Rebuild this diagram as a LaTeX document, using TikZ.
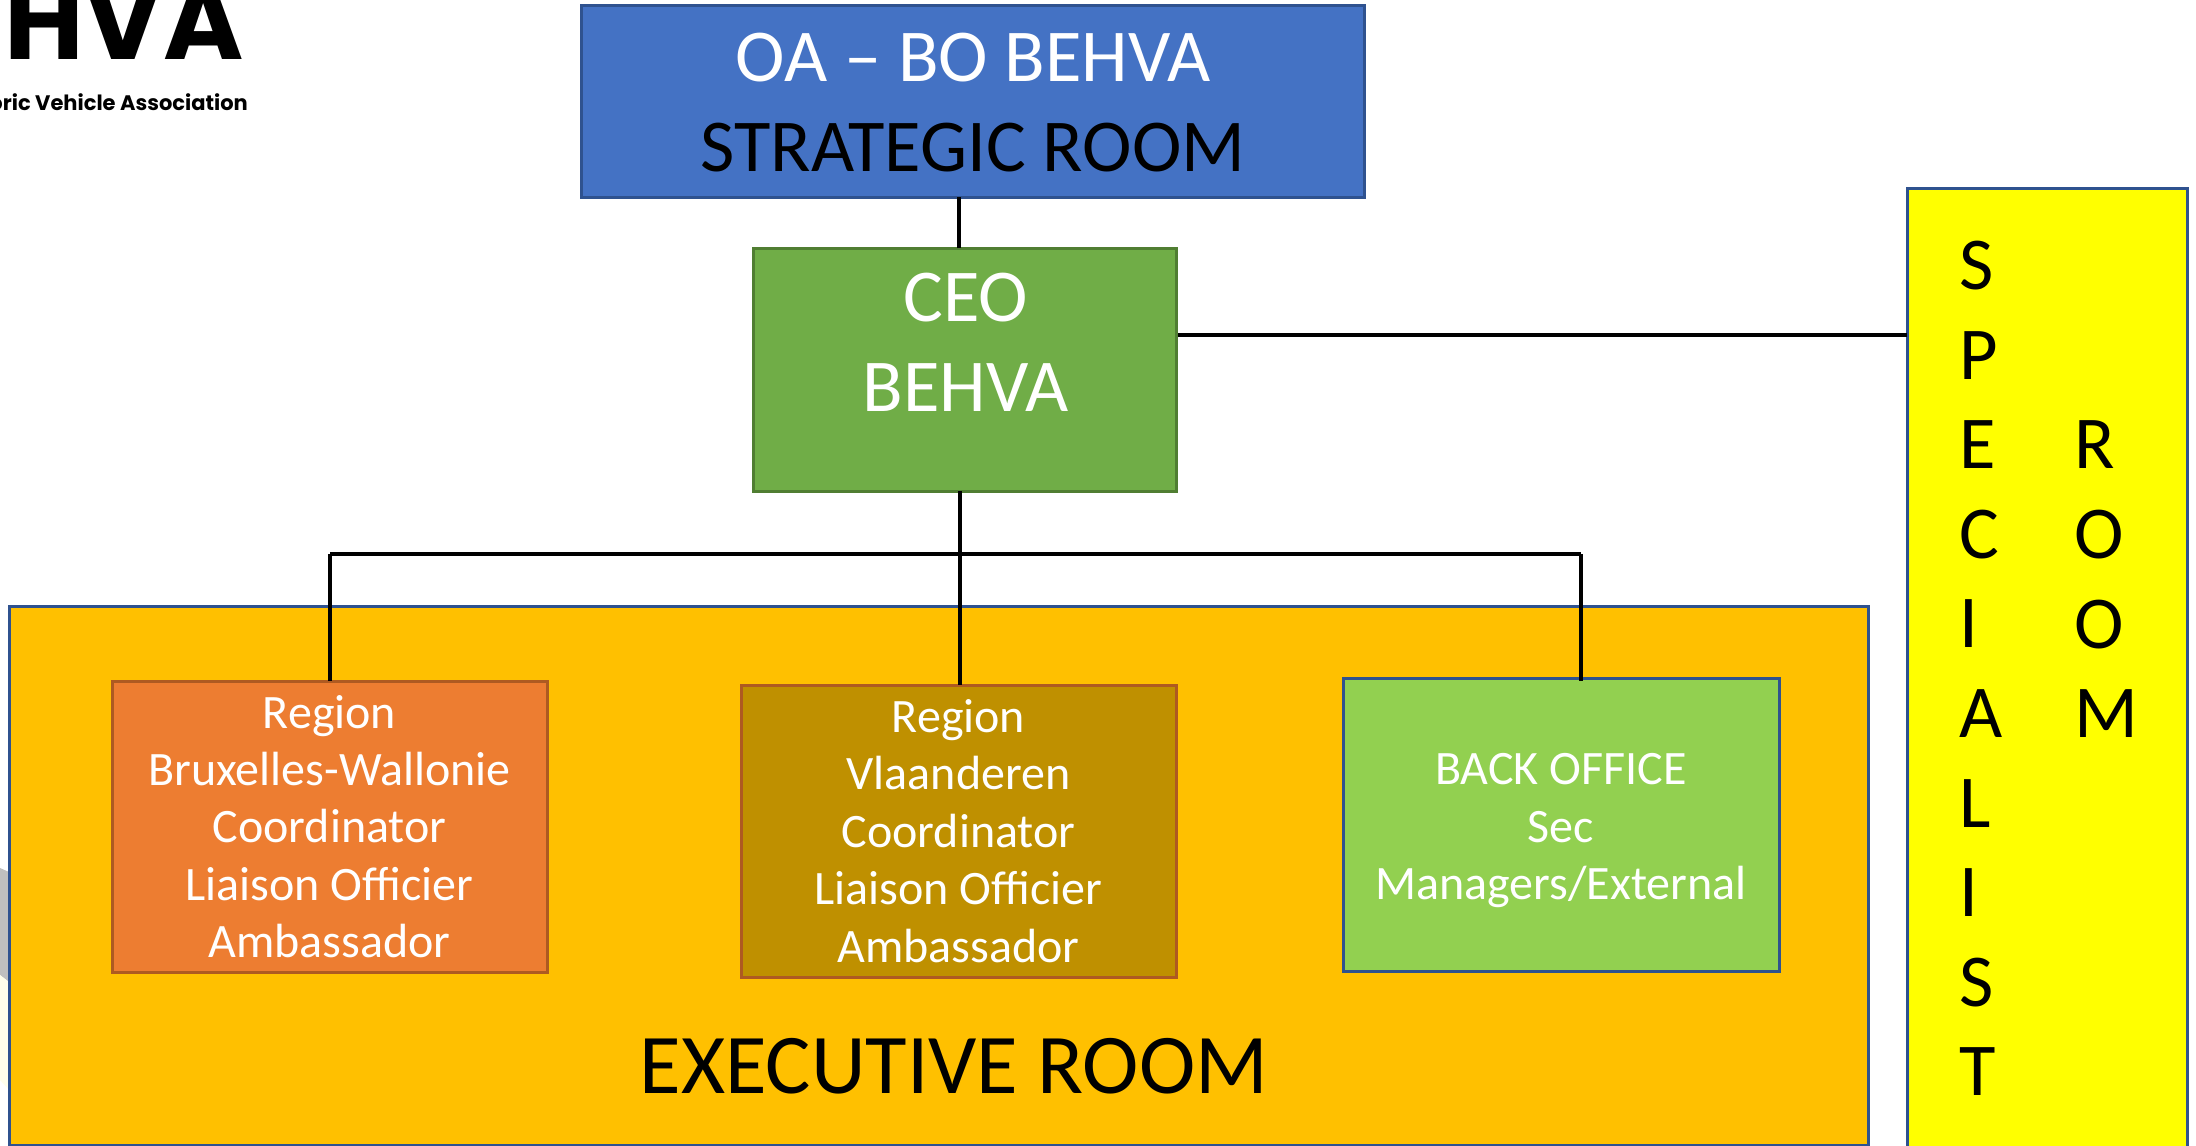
\documentclass[tikz,border=0pt]{standalone}
\usepackage{fontspec}
\setmainfont{Carlito}
\newfontfamily\logofont{Poppins}
\definecolor{blueroom}{HTML}{4472C4}
\definecolor{blueedge}{HTML}{2F528F}
\definecolor{ceofill}{HTML}{70AD47}
\definecolor{ceoedge}{HTML}{507E32}
\definecolor{execfill}{HTML}{FFC000}
\definecolor{orangefill}{HTML}{ED7D31}
\definecolor{orangeedge}{HTML}{AE5A21}
\definecolor{goldfill}{HTML}{BF9000}
\definecolor{backfill}{HTML}{92D050}
\definecolor{specfill}{HTML}{FFFF00}
\newcommand{\bigfont}{\fontsize{74.6}{89.6}\selectfont}
\newcommand{\hugefont}{\fontsize{85}{100}\selectfont}
\newcommand{\smallfont}{\fontsize{48}{57.4}\selectfont}
\begin{document}
\begin{tikzpicture}[line cap=butt,line join=miter,x=1pt,y=-1pt,
  room/.style={draw,line width=3pt,inner sep=0pt,outer sep=0pt,align=center},
  bigtext/.style={inner sep=0pt,outer sep=0pt,align=center,font=\bigfont},
  smalltext/.style={font=\smallfont,text=white},
  wire/.style={line width=4.5pt,black}]
\useasboundingbox (0,0) rectangle (2196,1146);
\clip (0,0) rectangle (2196,1146);
% logo and the grey scrap at the left edge
\node[anchor=base east,inner sep=0pt,text depth=0pt,font=\logofont\bfseries\fontsize{109}{109}\selectfont] (logomark) at (244,59) {HVA};
\node[anchor=base east,inner sep=0pt,font=\logofont\bfseries\fontsize{21}{21}\selectfont] (logoname) at (248,110) {oric Vehicle Association};
\fill[gray!50] (0,868) -- (9,872) -- (9,982) -- (0,975) -- cycle;
\fill[yellow!8] (0,975) -- (9,982) -- (9,1090) -- (0,1080) -- cycle;
% rooms
\node[room,fill=execfill,draw=blueedge,minimum width=1859,minimum height=539] (execroom) at (938.5,875.5) {};
\node[room,fill=blueroom,draw=blueedge,minimum width=783,minimum height=192] (oaboard) at (972.5,101) {};
\node[bigtext,text=white] (oaname) at (973,58) {OA -- BO BEHVA};
\node[bigtext,text=black] (strategic) at (973,148) {STRATEGIC ROOM};
\node[room,fill=ceofill,draw=ceoedge,minimum width=423,minimum height=243] (ceo) at (964.5,369.5) {};
\node[bigtext,text=white] (ceoname) at (965.5,298) {CEO};
\node[bigtext,text=white] (ceoorg) at (965.5,388) {BEHVA};
\node[room,fill=specfill,draw=blueedge,minimum width=280,minimum height=980,anchor=north west] (specialist) at (1907,188) {};
\node[bigtext,align=left,anchor=north west,text=black] (speccolone) at (1959,241) {S\\P\\E\\C\\I\\A\\L\\I\\S\\T};
\node[bigtext,align=left,anchor=north west,text=black] (speccoltwo) at (2074,421) {R\\O\\O\\M};
% connectors
\coordinate (ceotop) at (959,248);
\coordinate (ceoright) at (1178,335);
\coordinate (ceofoot) at (960,491);
\coordinate (busleft) at (330,554);
\coordinate (busmid) at (960,554);
\coordinate (busright) at (1581,554);
\draw[wire] (ceotop) -- (ceotop |- oaboard.south);
\draw[wire] (ceoright) -- (ceoright -| specialist.west);
\draw[wire] (ceofoot) -- (busmid);
\draw[wire,line cap=square] (busleft) -- (busright);
% regions
\node[room,fill=orangefill,draw=orangeedge,minimum width=435,minimum height=291,smalltext] (bxlwal) at (329.5,826.5) {Region\\Bruxelles-Wallonie\\Coordinator\\Liaison Officier\\Ambassador};
\node[room,fill=goldfill,draw=orangeedge,minimum width=435,minimum height=292,smalltext] (vlaanderen) at (958.5,831) {Region\\Vlaanderen\\Coordinator\\Liaison Officier\\Ambassador};
\node[room,fill=backfill,draw=blueedge,minimum width=436,minimum height=293,smalltext] (backoffice) at (1561,824.5) {\\[-14pt]BACK OFFICE\\Sec\\Managers/External};
\draw[wire] (busleft) -- (busleft |- bxlwal.north);
\draw[wire] (busmid) -- (busmid |- vlaanderen.north);
\draw[wire] (busright) -- (busright |- bxlwal.north);
\node[inner sep=0pt,font=\hugefont,text=black] (execname) at (954,1066) {EXECUTIVE ROOM};
\end{tikzpicture}
\end{document}
